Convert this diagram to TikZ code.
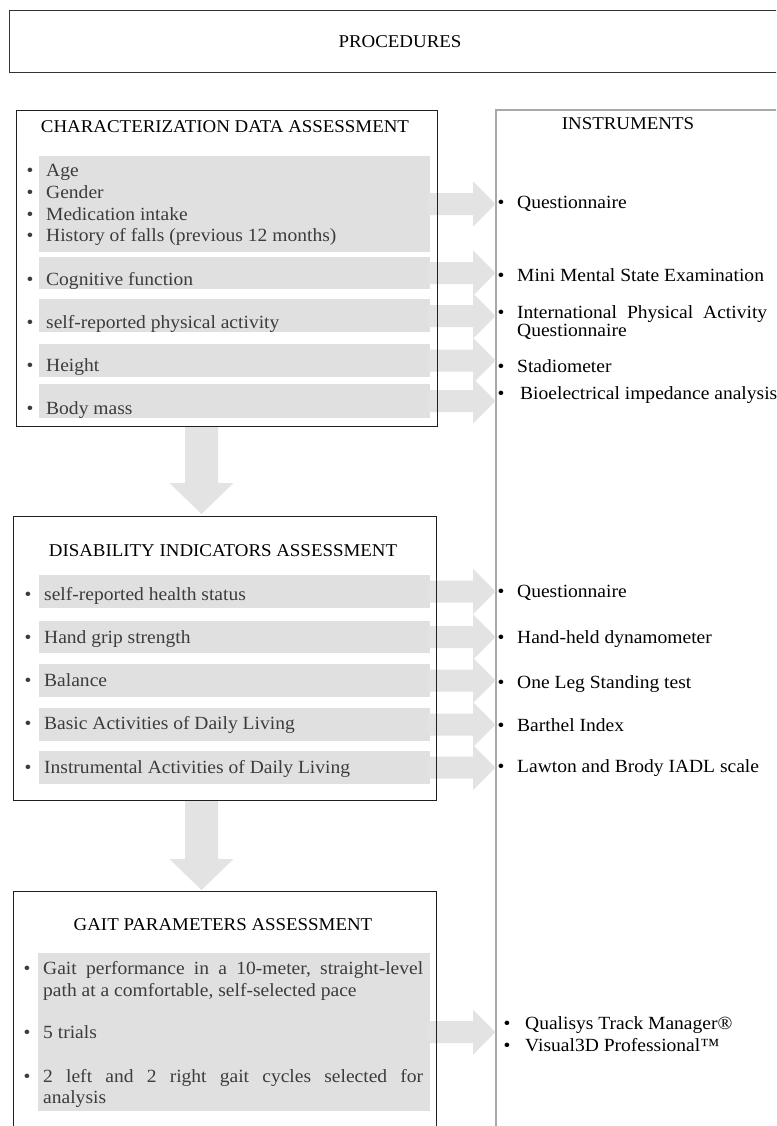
\documentclass[tikz,border=0pt]{standalone}
\usepackage{fontspec}
\setmainfont{Liberation Serif}[FakeStretch=1.05]
\usetikzlibrary{calc}
\definecolor{bandgray}{HTML}{E0E0E0}
\definecolor{arrgray}{HTML}{E3E3E3}
\definecolor{txtgray}{HTML}{3C3C3C}
\definecolor{framegray}{HTML}{A8A8A8}
\newcommand\fsbody{\fontsize{18.6}{22}\selectfont}
\newcommand\fsttl{\fontsize{18}{20}\selectfont}
\newcommand\hblock[1]{\fill[arrgray] (428,#1-11) -- (473,#1-11) -- (473,#1-22.5) -- (495.5,#1) -- (473,#1+22.5) -- (473,#1+11) -- (428,#1+11) -- cycle;}
\newcommand\vblock[2]{\fill[arrgray] (185,#1) -- (218,#1) -- (218,#2-31) -- (233.5,#2-31) -- (201.5,#2) -- (169.5,#2-31) -- (185,#2-31) -- cycle;}
\begin{document}
\begin{tikzpicture}[x=1pt,y=-1pt,
  band/.style={fill=bandgray, draw=none, anchor=north west, inner sep=0pt, minimum width=391pt},
  frame/.style={draw=black!88, line width=1.3pt, anchor=north west, inner sep=0pt},
  ttl/.style={anchor=base, inner sep=0pt, text=black, font=\fsttl},
  itm/.style={anchor=base west, inner sep=0pt, text=txtgray, font=\fsbody},
  bul/.style={anchor=base, inner sep=0pt, text=txtgray, font=\fsbody},
  ins/.style={anchor=base west, inner sep=0pt, text=black, font=\fsbody},
  ibul/.style={anchor=base, inner sep=0pt, text=black, font=\fsbody}]
\useasboundingbox (0,0) rectangle (776,1126);
\clip (0,0) rectangle (776,1126);
\fill[white] (0,0) rectangle (776,1126);

% PROCEDURES
\node[draw=black!80, line width=1.4pt, anchor=north west, inner sep=0pt, minimum width=800pt, minimum height=62pt] (proc) at (9,10) {};
\node[ttl] (proct) at (400,48) {PROCEDURES};

% INSTRUMENTS frame
\draw[framegray, line width=1.4pt] (496,1140) -- (496,110) -- (800,110);
\node[ttl] (inst) at (628,130) {INSTRUMENTS};

% ---------- bands ----------
\node[band, minimum height=96pt] (cb1) at (39,156) {};
\node[band, minimum height=32pt] (cb2) at (39,257) {};
\node[band, minimum height=33pt] (cb3) at (39,299) {};
\node[band, minimum height=33pt] (cb4) at (39,344) {};
\node[band, minimum height=34pt] (cb5) at (39,384) {};
\node[band, minimum height=33pt] (db1) at (39,575) {};
\node[band, minimum height=32pt] (db2) at (39,621) {};
\node[band, minimum height=33pt] (db3) at (39,664) {};
\node[band, minimum height=33pt] (db4) at (39,708) {};
\node[band, minimum height=33pt] (db5) at (39,751) {};
\node[band, minimum height=158pt, minimum width=392pt] (gb1) at (38,953) {};

% ---------- block arrows ----------
\hblock{204}
\hblock{273}
\hblock{316}
\hblock{360.5}
\hblock{401}
\hblock{591.5}
\hblock{637}
\hblock{680.5}
\hblock{724.5}
\hblock{767.5}
\hblock{1032}
\vblock{426}{514}
\vblock{800}{890}

% ---------- frames ----------
\node[frame, minimum width=421pt, minimum height=316pt] (charbox) at (16,110) {};
\node[frame, minimum width=423pt, minimum height=284pt] (disbox) at (13,516) {};
\node[frame, minimum width=423pt, minimum height=300pt] (gaitbox) at (13,891) {};

% ---------- characterization ----------
\node[ttl] (chart) at (225,133) {CHARACTERIZATION DATA ASSESSMENT};
\node[bul] (cbu1) at (30,177) {\textbullet};
\node[itm] (ct1) at (46,177) {Age};
\node[bul] (cbu2) at (30,198.5) {\textbullet};
\node[itm] (ct2) at (46,198.5) {Gender};
\node[bul] (cbu3) at (30,220) {\textbullet};
\node[itm] (ct3) at (46,220) {Medication intake};
\node[bul] (cbu4) at (30,241.5) {\textbullet};
\node[itm] (ct4) at (46,241.5) {History of falls (previous 12 months)};
\node[bul] (cbu5) at (30,285) {\textbullet};
\node[itm] (ct5) at (46,285) {Cognitive function};
\node[bul] (cbu6) at (30,328) {\textbullet};
\node[itm] (ct6) at (46,328) {self-reported physical activity};
\node[bul] (cbu7) at (30,371) {\textbullet};
\node[itm] (ct7) at (46,371) {Height};
\node[bul] (cbu8) at (30,414) {\textbullet};
\node[itm] (ct8) at (46,414) {Body mass};

% ---------- disability ----------
\node[ttl] (dist) at (223,556.5) {DISABILITY INDICATORS ASSESSMENT};
\node[bul] (dbu1) at (28,600) {\textbullet};
\node[itm] (dt1) at (44,600) {self-reported health status};
\node[bul] (dbu2) at (28,643) {\textbullet};
\node[itm] (dt2) at (44,643) {Hand grip strength};
\node[bul] (dbu3) at (28,686) {\textbullet};
\node[itm] (dt3) at (44,686) {Balance};
\node[bul] (dbu4) at (28,729) {\textbullet};
\node[itm] (dt4) at (44,729) {Basic Activities of Daily Living};
\node[bul] (dbu5) at (28,773) {\textbullet};
\node[itm] (dt5) at (44,773) {Instrumental Activities of Daily Living};

% ---------- gait ----------
\node[ttl] (gait) at (223,930.5) {GAIT PARAMETERS ASSESSMENT};
\node[bul] (gbu1) at (27,974) {\textbullet};
\node[itm] (gt1) at (43,974) {\hbox to 380pt{Gait\hfill performance\hfill in\hfill a\hfill 10-meter,\hfill straight-level}};
\node[itm] (gt2) at (43,996) {path at a comfortable, self-selected pace};
\node[bul] (gbu2) at (27,1038) {\textbullet};
\node[itm] (gt3) at (43,1038) {5 trials};
\node[bul] (gbu3) at (27,1082) {\textbullet};
\node[itm] (gt4) at (43,1082) {\hbox to 380pt{2\hfill left\hfill and\hfill 2\hfill right\hfill gait\hfill cycles\hfill selected\hfill for}};
\node[itm] (gt5) at (43,1103) {analysis};

% ---------- instruments ----------
\node[ibul] (ib1) at (501,208) {\textbullet};
\node[ins] (it1) at (517,208) {Questionnaire};
\node[ibul] (ib2) at (501,281) {\textbullet};
\node[ins] (it2) at (517,281) {Mini Mental State Examination};
\node[ibul] (ib3) at (501,318) {\textbullet};
\node[ins] (it3) at (517,318) {\hbox to 250pt{International\hfill Physical\hfill Activity}};
\node[ins] (it3b) at (517,336) {Questionnaire};
\node[ibul] (ib4) at (501,372) {\textbullet};
\node[ins] (it4) at (517,372) {Stadiometer};
\node[ibul] (ib5) at (501,399) {\textbullet};
\node[ins] (it5) at (520,399) {Bioelectrical impedance analysis};

\node[ibul] (ib6) at (501,597) {\textbullet};
\node[ins] (it6) at (517,597) {Questionnaire};
\node[ibul] (ib7) at (501,643) {\textbullet};
\node[ins] (it7) at (517,643) {Hand-held dynamometer};
\node[ibul] (ib8) at (501,688) {\textbullet};
\node[ins] (it8) at (517,688) {One Leg Standing test};
\node[ibul] (ib9) at (501,731) {\textbullet};
\node[ins] (it9) at (517,731) {Barthel Index};
\node[ibul] (ib10) at (501,772) {\textbullet};
\node[ins] (it10) at (517,772) {Lawton and Brody IADL scale};

\node[ibul] (ib11) at (507,1029) {\textbullet};
\node[ins] (it11) at (525,1029) {Qualisys Track Manager®};
\node[ibul] (ib12) at (507,1051) {\textbullet};
\node[ins] (it12) at (525,1051) {Visual3D Professional™};
\end{tikzpicture}
\end{document}
